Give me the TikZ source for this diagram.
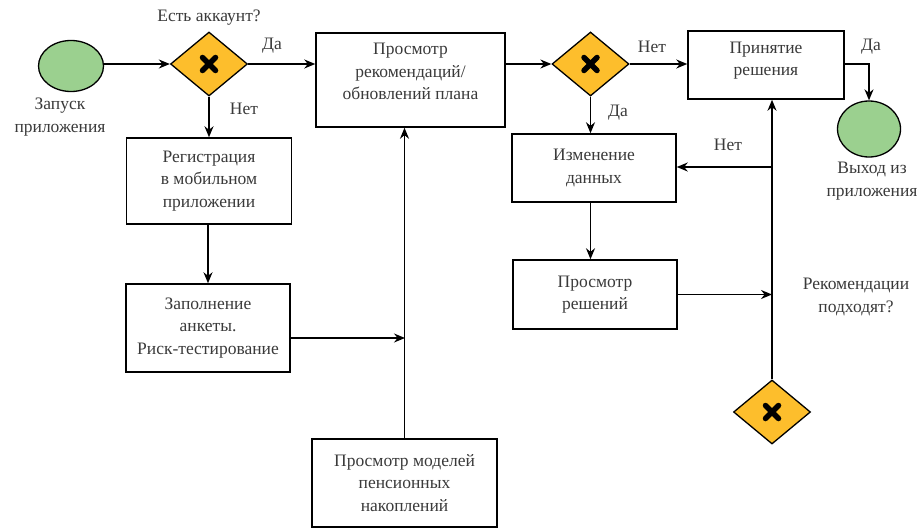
\documentclass[tikz,border=0pt]{standalone}
\usepackage{fontspec}
\setmainfont{Liberation Serif}
\usetikzlibrary{shapes.geometric,arrows.meta}
\definecolor{txt}{HTML}{3A3A3A}
\definecolor{evfill}{HTML}{9BD08F}
\definecolor{gwfill}{HTML}{FDBE2C}
\tikzset{
  lbl/.style={text=txt,font=\fontsize{17.5}{22.5}\selectfont,align=center,inner sep=0pt},
  task/.style={draw=black,line width=1.5pt,fill=white,text=txt,font=\fontsize{17.5}{22.5}\selectfont,align=center,inner sep=0pt},
  event/.style={ellipse,draw=black,line width=1.3pt,fill=evfill,inner sep=0pt},
  gateway/.style={diamond,draw=black,line width=1.3pt,fill=gwfill,inner sep=0pt,
    minimum width=77pt,minimum height=64pt,
    path picture={\draw[line width=5.5pt,line cap=round]
      ([shift={(-6.5,-6.5)}]path picture bounding box.center) -- ([shift={(6.5,6.5)}]path picture bounding box.center)
      ([shift={(-6.5,6.5)}]path picture bounding box.center) -- ([shift={(6.5,-6.5)}]path picture bounding box.center);}},
  conn/.style={line width=1.5pt,draw=black},
  arr/.style={conn,-{Stealth[length=11pt,width=9pt]}}
}
\begin{document}
\begin{tikzpicture}[x=1pt,y=-1pt]
\useasboundingbox (0,0) rectangle (917,527);

% events
\node[event,minimum width=65pt,minimum height=51pt] (start) at (71,66) {};
\node[lbl] (startl) at (60,117) {Запуск\\приложения};
\node[event,minimum width=63pt,minimum height=56pt] (exit) at (869,129) {};
\node[lbl] (exitl) at (872,181) {Выход из\\приложения};

% gateways
\node[gateway] (d1) at (209,64) {};
\node[gateway] (d2) at (590.5,64) {};
\node[gateway] (d3) at (772,412) {};

% tasks
\node[task,minimum width=165pt,minimum height=86pt] (reg) at (209,181) {Регистрация\\в мобильном\\приложении};
\node[task,minimum width=164pt,minimum height=88pt] (fill) at (208,328) {Заполнение\\анкеты.\\Риск-тестирование};
\node[task,minimum width=189pt,minimum height=94pt] (prosm) at (410.5,80) {Просмотр\\рекомендаций/\\обновлений плана\\[-6pt]\mbox{}};
\node[task,minimum width=185pt,minimum height=88pt] (models) at (404.5,483) {Просмотр моделей\\пенсионных\\накоплений};
\node[task,minimum width=156pt,minimum height=68pt] (decision) at (766,65) {Принятие\\решения\\[-10pt]\mbox{}};
\node[task,minimum width=164pt,minimum height=68pt] (change) at (594,168) {Изменение\\данных};
\node[task,minimum width=164pt,minimum height=69pt] (review) at (595,294.5) {Просмотр\\решений};

% labels
\node[lbl] (q1) at (209,18) {Есть аккаунт?};
\node[lbl] (da1) at (272,46) {Да};
\node[lbl] (net1) at (244,109) {Нет};
\node[lbl] (net2) at (652,47) {Нет};
\node[lbl] (da2) at (618,113) {Да};
\node[lbl] (da3) at (871,47) {Да};
\node[lbl] (net3) at (728,145) {Нет};
\node[lbl] (q3) at (856,297) {Рекомендации\\подходят?};

% junctions
\coordinate (j1) at (405,338);
\coordinate (j2) at (772,167);

% connectors
\draw[arr] (start.east |- d1.west) -- (d1.west);
\draw[arr] (d1.east) -- (d1.east -| prosm.west);
\draw[arr] (d1.south) -- (d1.south |- reg.north);
\draw[arr] (reg.south -| fill.north) -- (fill.north);
\draw[arr] (fill.east |- j1) -- (j1);
\draw[arr] (models.north) -- (models.north |- prosm.south);
\draw[arr] (d2.west -| prosm.east) -- (d2.west);
\draw[arr] (d2.east) -- (d2.east -| decision.west);
\draw[arr] (d2.south) -- (d2.south |- change.north);
\draw[arr] (d2.south |- change.south) -- (d2.south |- review.north);
\draw[arr] (decision.east |- d2.east) -| (exit.north);
\draw[arr] (review.east) -- (review.east -| d3.north);
\draw[arr] (d3.north) -- (d3.north |- decision.south);
\draw[arr] (j2) -- (j2 -| change.east);
\end{tikzpicture}
\end{document}
